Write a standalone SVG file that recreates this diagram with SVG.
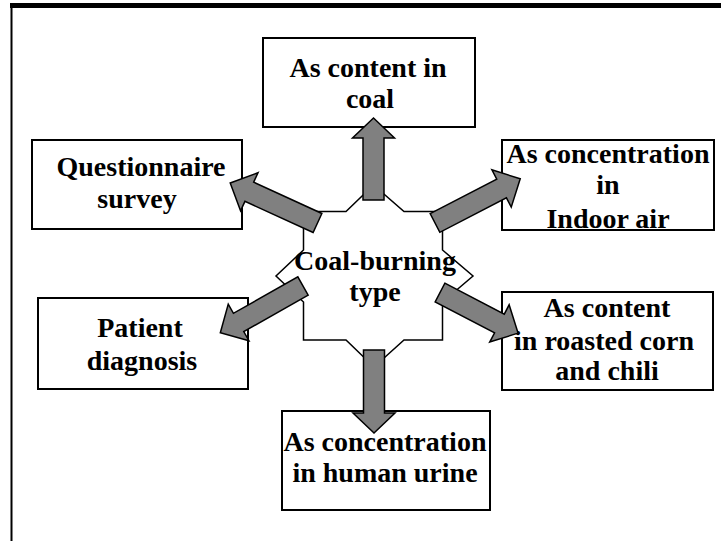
<svg xmlns="http://www.w3.org/2000/svg" width="721" height="541" viewBox="0 0 721 541">
<style>
.box{fill:#fff;stroke:#000;stroke-width:2}
.star{fill:#fff;stroke:#000;stroke-width:1.5}
.arr{fill:#808080;stroke:#000;stroke-width:1.5;stroke-linejoin:miter}
.t{font-family:'Liberation Serif','Times New Roman',serif;font-weight:700;font-size:28px;fill:#000;text-anchor:middle}
</style>
<rect x="0" y="0" width="721" height="541" fill="#fff"/>
<line x1="10" y1="5.5" x2="721" y2="5.5" stroke="#000" stroke-width="5"/>
<line x1="11.5" y1="3" x2="11.5" y2="541" stroke="#000" stroke-width="2"/>
<g id="node-coal">
<rect class="box" x="263" y="38" width="212" height="89"/>
<text class="t" x="368" y="77">As content in</text>
<text class="t" x="370" y="108">coal</text>
</g>
<g id="node-questionnaire">
<rect class="box" x="32" y="140" width="210" height="89"/>
<text class="t" x="141" y="176">Questionnaire</text>
<text class="t" x="137" y="208">survey</text>
</g>
<g id="node-indoor">
<rect class="box" x="502" y="140" width="212" height="90"/>
<text class="t" x="608" y="163">As concentration</text>
<text class="t" x="608" y="194">in</text>
<text class="t" x="608" y="228">Indoor air</text>
</g>
<g id="node-patient">
<rect class="box" x="38" y="298" width="210" height="91"/>
<text class="t" x="140" y="337">Patient</text>
<text class="t" x="142" y="370">diagnosis</text>
</g>
<g id="node-corn">
<rect class="box" x="502" y="292" width="211" height="98"/>
<text class="t" x="607" y="317">As content</text>
<text class="t" x="604" y="350">in roasted corn</text>
<text class="t" x="607" y="380">and chili</text>
</g>
<g id="node-urine">
<rect class="box" x="282" y="411" width="208" height="99"/>
<text class="t" x="385" y="451">As concentration</text>
<text class="t" x="385" y="482">in human urine</text>
</g>
<g id="node-center">
<polygon class="star" points="303.5,211.5 346,211.5 373.5,185 404,211.5 442.5,211.5 442.5,250 473,276 442.5,302 442.5,340 404,340 374,367 346,340 303.5,340 303.5,302 276,276 303.5,250"/>
<text class="t" x="375" y="270">Coal-burning</text>
<text class="t" x="375" y="301">type</text>
</g>
<g id="connectors">
<polygon class="arr" transform="translate(373.5,200) rotate(-90)" points="0,-10.5 62,-10.5 62,-21 82,0 62,21 62,10.5 0,10.5"/>
<polygon class="arr" transform="translate(374,350) rotate(90)" points="0,-10.5 63,-10.5 63,-21 83,0 63,21 63,10.5 0,10.5"/>
<polygon class="arr" transform="translate(317.5,223) rotate(-155.4)" points="0,-10.5 75,-10.5 75,-21 96,0 75,21 75,10.5 0,10.5"/>
<polygon class="arr" transform="translate(435,223) rotate(-27.4)" points="0,-10.5 75,-10.5 75,-21 96,0 75,21 75,10.5 0,10.5"/>
<polygon class="arr" transform="translate(303,286) rotate(150.5)" points="0,-10.5 74,-10.5 74,-21 95,0 74,21 74,10.5 0,10.5"/>
<polygon class="arr" transform="translate(440,292.5) rotate(27.5)" points="0,-10.5 67,-10.5 67,-21 88,0 67,21 67,10.5 0,10.5"/>
</g>
</svg>
